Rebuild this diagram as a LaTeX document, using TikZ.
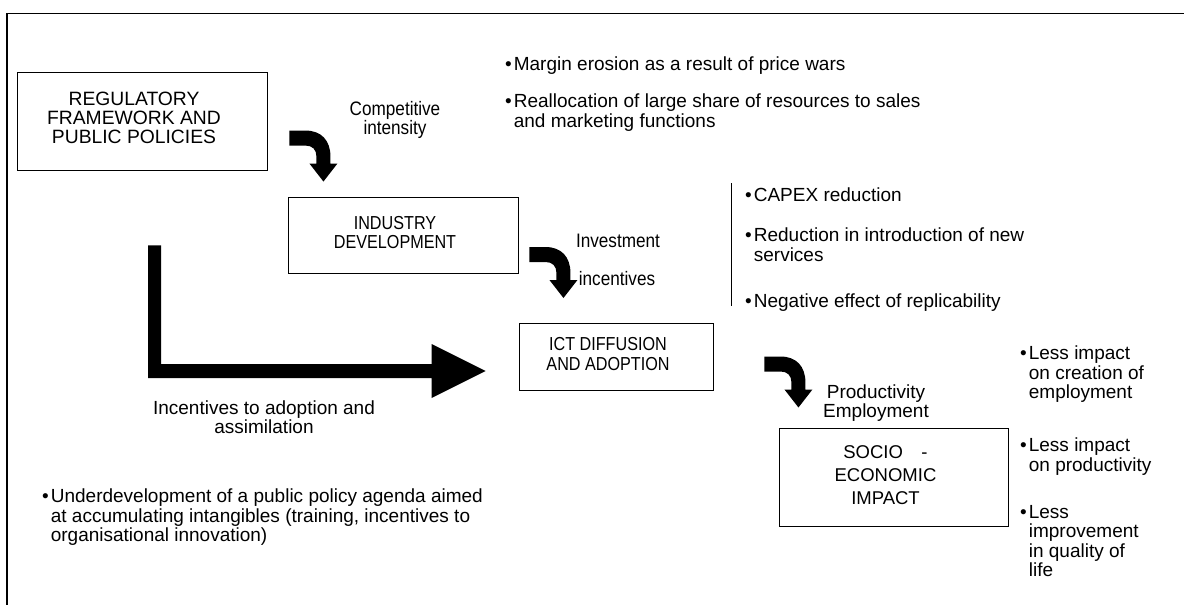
\documentclass[tikz,border=0pt]{standalone}
\usepackage{fontspec}
\setmainfont{Liberation Sans}
\newfontfamily\narrowsans[FakeStretch=0.86]{Liberation Sans}
\newfontfamily\midsans[FakeStretch=0.88]{Liberation Sans}
\usetikzlibrary{calc}
\newcommand\blist[1]{\begin{tabular}{@{}c@{\hspace{2pt}}l@{}}#1\end{tabular}}
\newcommand\btext[1]{\begin{tabular}{@{}c@{\hspace{16pt}}}#1\end{tabular}}
\begin{document}
\begin{tikzpicture}[x=1pt,y=-1pt,
  box/.style={draw, line width=0.9pt, inner sep=0pt},
  lbl/.style={align=center, inner sep=0pt, font=\fontsize{19}{19}\selectfont},
  nlbl/.style={align=center, inner sep=0pt, font=\midsans\fontsize{19.5}{19}\selectfont},
  bl/.style={anchor=north west, inner sep=0pt, font=\fontsize{19}{19}\selectfont},
  frame/.style={line width=1.6pt},
  thin/.style={line width=1pt},
  bend arrow/.pic={\fill (0,0) -- (16,0) .. controls (32,0) and (41,10) .. (41,26) -- (41,33) -- (48,33) -- (34,51) -- (20,33) -- (27,33) -- (27,26) .. controls (27,19) and (23,15) .. (16,15) -- (0,15) -- cycle;}]
\useasboundingbox (0,0) rectangle (1184,605);
% frame
\coordinate (fc) at (7,13.5);
\draw[frame] (1184,13.5) -- (fc) -- (7,605);
% boxes
\node[box, minimum width=250, minimum height=98, font=\fontsize{19.3}{18.5}\selectfont] (reg) at (142,121) {\btext{REGULATORY\\FRAMEWORK AND\\PUBLIC POLICIES}};
\node[box, minimum width=230, minimum height=76, font=\narrowsans\fontsize{18.8}{19}\selectfont] (ind) at (403,235) {\btext{INDUSTRY\\DEVELOPMENT}};
\node[box, minimum width=194, minimum height=67, font=\narrowsans\fontsize{18.8}{20}\selectfont] (ict) at (616,356.5) {\btext{ICT DIFFUSION\\AND ADOPTION}};
\node[box, minimum width=229, minimum height=98, font=\fontsize{18.5}{23}\selectfont] (soc) at (893.5,477) {\btext{SOCIO\quad -\\ECONOMIC\\IMPACT}};
% bent block arrows
\pic at ($(reg.north east)+(22,59)$) {bend arrow};
\pic at ($(ind.east)+(11,12)$) {bend arrow};
\pic at ($(ict.east)+(51,0)$) {bend arrow};
% L-shaped block arrow
\fill ($(reg.south)+(6,75)$) -- ++(13,0) |- ($(ict.west)+(-87,7.5)$) -- ++(0,-20) -- ($(ict.west)+(-33,14.5)$) -- ($(ict.west)+(-87,41.5)$) -- ++(0,-20) -| cycle;
% labels
\node[nlbl, anchor=north] (ci) at (395,101) {Competitive\\intensity};
\node[nlbl, anchor=north] (inv) at (618,234) {Investment};
\node[nlbl, anchor=north] (inc) at (617,271) {incentives};
\node[lbl, anchor=north] (pe) at (876,385) {Productivity\\Employment};
\node[lbl, anchor=north] (ia) at (264,401) {Incentives to adoption and\\assimilation};
% separator line
\coordinate (s1) at (731,183);
\coordinate (s2) at (731,306);
\draw[thin] (s1) -- (s2);
% bullet lists
\node[bl] (b1) at (505,57) {\blist{•&Margin erosion as a result of price wars}};
\node[bl] (b2) at (505,94) {\blist{•&Reallocation of large share of resources to sales\\&and marketing functions}};
\node[bl] (b3) at (745,188) {\blist{•&CAPEX reduction}};
\node[bl] (b4) at (745,228) {\blist{•&Reduction in introduction of new\\&services}};
\node[bl] (b5) at (745,294) {\blist{•&Negative effect of replicability}};
\node[bl] (b6) at (1020,346) {\blist{•&Less impact\\&on creation of\\&employment}};
\node[bl] (b7) at (1020,438) {\blist{•&Less impact\\&on productivity}};
\node[bl] (b8) at (1020,505) {\blist{•&Less\\&improvement\\&in quality of\\&life}};
\node[bl] (b9) at (42,489) {\blist{•&Underdevelopment of a public policy agenda aimed\\&at accumulating intangibles (training, incentives to\\&organisational innovation)}};
\end{tikzpicture}
\end{document}
